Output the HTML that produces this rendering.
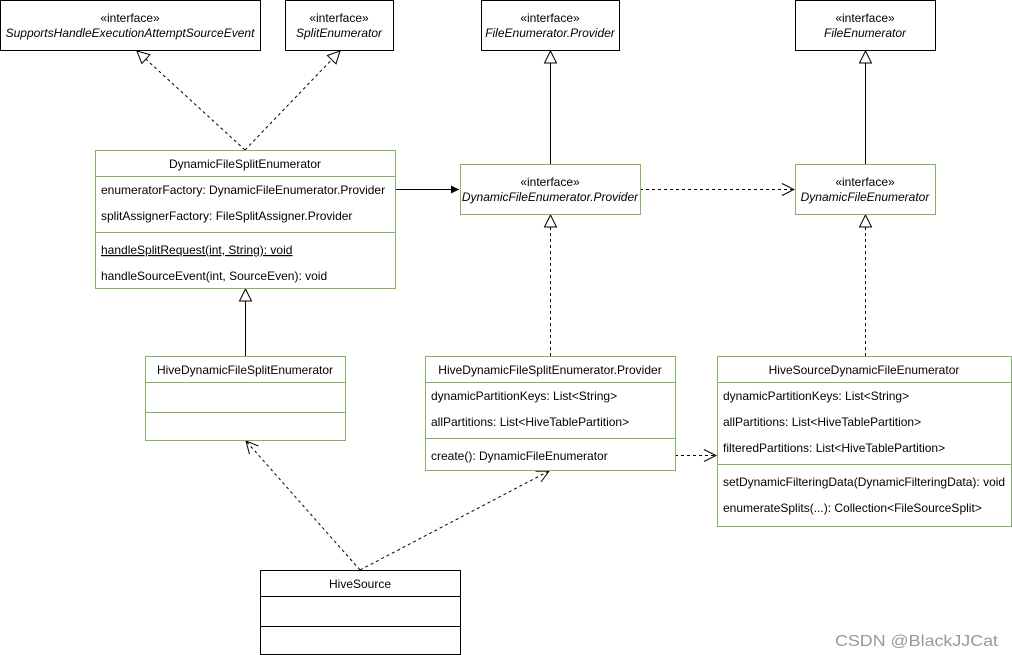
<!DOCTYPE html>
<html><head><meta charset="utf-8"><style>
html,body{margin:0;padding:0;background:#fff;}
svg{display:block;font-family:"Liberation Sans",Helvetica,Arial,sans-serif;font-size:12px;}
</style></head><body>
<svg width="1012" height="655" viewBox="0 0 1012 655" xmlns="http://www.w3.org/2000/svg">
<defs>
<marker id="tri" viewBox="0 0 14 14" refX="13" refY="7" markerWidth="14" markerHeight="14" markerUnits="userSpaceOnUse" orient="auto"><path d="M1,1 L13,7 L1,13 Z" fill="#fff" stroke="#000" stroke-width="1"/></marker>
<marker id="open" viewBox="0 0 14 14" refX="13" refY="7" markerWidth="14" markerHeight="14" markerUnits="userSpaceOnUse" orient="auto"><path d="M1,1 L13,7 L1,13" fill="none" stroke="#000" stroke-width="1"/></marker>
<marker id="fill" viewBox="0 0 10 10" refX="9" refY="5" markerWidth="10" markerHeight="10" markerUnits="userSpaceOnUse" orient="auto"><path d="M1,1 L9,5 L1,9 Z" fill="#000"/></marker>
</defs>
<g fill="none" stroke="#000" stroke-width="1">
<line x1="245" y1="150" x2="137" y2="51" stroke-dasharray="3,3" marker-end="url(#tri)"/>
<line x1="245" y1="150" x2="340" y2="51" stroke-dasharray="3,3" marker-end="url(#tri)"/>
<line x1="550.5" y1="164" x2="550.5" y2="51" marker-end="url(#tri)"/>
<line x1="865.5" y1="164" x2="865.5" y2="51" marker-end="url(#tri)"/>
<line x1="395" y1="189.5" x2="459" y2="189.5" marker-end="url(#fill)"/>
<line x1="640" y1="189.5" x2="794" y2="189.5" stroke-dasharray="3,3" marker-end="url(#open)"/>
<line x1="550.5" y1="356" x2="550.5" y2="215" stroke-dasharray="3,3" marker-end="url(#tri)"/>
<line x1="865.5" y1="356" x2="865.5" y2="215" stroke-dasharray="3,3" marker-end="url(#tri)"/>
<line x1="245.5" y1="356" x2="245.5" y2="289" marker-end="url(#tri)"/>
<line x1="360" y1="570" x2="246" y2="441" stroke-dasharray="3,3" marker-end="url(#open)"/>
<line x1="360" y1="570" x2="549" y2="471" stroke-dasharray="3,3" marker-end="url(#open)"/>
<line x1="675" y1="455.5" x2="716" y2="455.5" stroke-dasharray="3,3" marker-end="url(#open)"/>
</g>
<g fill="#fff" stroke="#000" stroke-width="1">
<rect x="0.5" y="0.5" width="260" height="50"/>
<rect x="285.5" y="0.5" width="108" height="50"/>
<rect x="481.5" y="0.5" width="138" height="50"/>
<rect x="795.5" y="0.5" width="140" height="50"/>
<rect x="260.5" y="570.5" width="200" height="84"/>
<line x1="260" y1="596.5" x2="461" y2="596.5"/>
<line x1="260" y1="626.5" x2="461" y2="626.5"/>
</g>
<g fill="#fff" stroke="#82b366" stroke-width="1">
<rect x="95.5" y="150.5" width="300" height="138"/>
<line x1="95" y1="176.5" x2="396" y2="176.5"/>
<line x1="95" y1="232.5" x2="396" y2="232.5"/>
<rect x="460.5" y="164.5" width="180" height="50"/>
<rect x="795.5" y="164.5" width="140" height="50"/>
<rect x="145.5" y="356.5" width="200" height="84"/>
<line x1="145" y1="382.5" x2="346" y2="382.5"/>
<line x1="145" y1="412.5" x2="346" y2="412.5"/>
<rect x="425.5" y="356.5" width="250" height="114"/>
<line x1="425" y1="382.5" x2="676" y2="382.5"/>
<line x1="425" y1="438.5" x2="676" y2="438.5"/>
<rect x="717.5" y="356.5" width="294" height="170"/>
<line x1="717" y1="382.5" x2="1012" y2="382.5"/>
<line x1="717" y1="464.5" x2="1012" y2="464.5"/>
</g>
<g fill="#000">
<g text-anchor="middle">
<text x="130" y="22">«interface»</text><text x="130" y="37" font-style="italic">SupportsHandleExecutionAttemptSourceEvent</text>
<text x="339" y="22">«interface»</text><text x="339" y="37" font-style="italic">SplitEnumerator</text>
<text x="550" y="22">«interface»</text><text x="550" y="37" font-style="italic">FileEnumerator.Provider</text>
<text x="865" y="22">«interface»</text><text x="865" y="37" font-style="italic">FileEnumerator</text>
<text x="550" y="186">«interface»</text><text x="550" y="201" font-style="italic">DynamicFileEnumerator.Provider</text>
<text x="865" y="186">«interface»</text><text x="865" y="201" font-style="italic">DynamicFileEnumerator</text>
<text x="245" y="168">DynamicFileSplitEnumerator</text>
<text x="245" y="374">HiveDynamicFileSplitEnumerator</text>
<text x="550" y="374">HiveDynamicFileSplitEnumerator.Provider</text>
<text x="864" y="374">HiveSourceDynamicFileEnumerator</text>
<text x="360" y="588">HiveSource</text>
</g>
<text x="101" y="194">enumeratorFactory: DynamicFileEnumerator.Provider</text>
<text x="101" y="220">splitAssignerFactory: FileSplitAssigner.Provider</text>
<text x="101" y="254" text-decoration="underline">handleSplitRequest(int, String): void</text>
<text x="101" y="280">handleSourceEvent(int, SourceEven): void</text>
<text x="431" y="400">dynamicPartitionKeys: List&lt;String&gt;</text>
<text x="431" y="426">allPartitions: List&lt;HiveTablePartition&gt;</text>
<text x="431" y="460">create(): DynamicFileEnumerator</text>
<text x="723" y="400">dynamicPartitionKeys: List&lt;String&gt;</text>
<text x="723" y="426">allPartitions: List&lt;HiveTablePartition&gt;</text>
<text x="723" y="452">filteredPartitions: List&lt;HiveTablePartition&gt;</text>
<text x="723" y="486">setDynamicFilteringData(DynamicFilteringData): void</text>
<text x="723" y="512">enumerateSplits(...): Collection&lt;FileSourceSplit&gt;</text>
</g>
<text x="835" y="646" fill="#999" font-size="16" textLength="163" lengthAdjust="spacingAndGlyphs">CSDN @BlackJJCat</text>
</svg>
</body></html>
